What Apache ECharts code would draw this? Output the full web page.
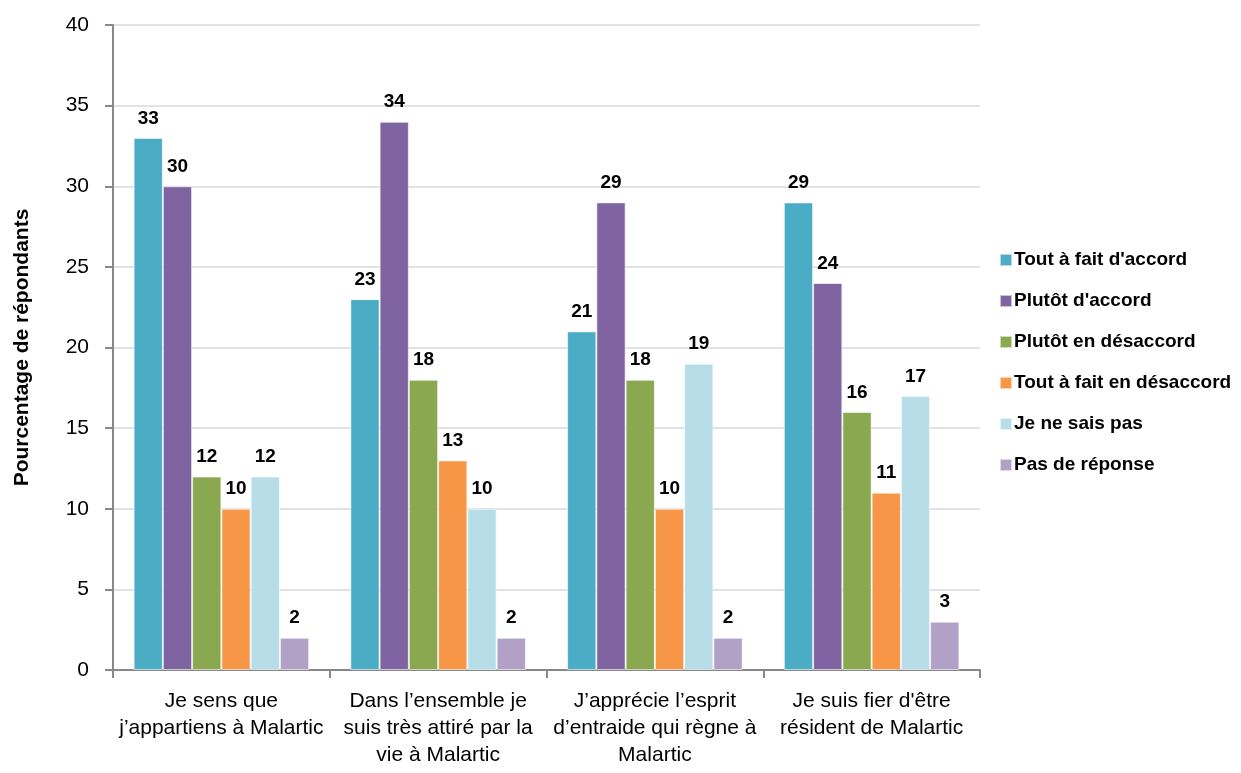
<!DOCTYPE html>
<html><head><meta charset="utf-8">
<script src="https://cdn.jsdelivr.net/npm/echarts@6/dist/echarts.min.js"></script>
<style>html,body{margin:0;padding:0;background:#fff}#c{width:1241px;height:773px}</style>
</head><body><div id="c"></div>
<script>
const categories = ["Je sens que\nj’appartiens à Malartic", "Dans l’ensemble je\nsuis très attiré par la\nvie à Malartic", "J’apprécie l’esprit\nd’entraide qui règne à\nMalartic", "Je suis fier d'être\nrésident de Malartic"];
const seriesNames = ["Tout à fait d'accord", "Plutôt d'accord", "Plutôt en désaccord", "Tout à fait en désaccord", "Je ne sais pas", "Pas de réponse"];
const toutAFaitAccord = [33, 23, 21, 29];
const plutotAccord = [30, 34, 29, 24];
const plutotDesaccord = [12, 18, 18, 16];
const toutAFaitDesaccord = [10, 13, 10, 11];
const neSaisPas = [12, 10, 19, 17];
const pasDeReponse = [2, 2, 2, 3];
const colors = ["#4BACC6", "#8064A2", "#8AA84F", "#F79646", "#B7DEE8", "#B2A1C7"];
const values = [toutAFaitAccord, plutotAccord, plutotDesaccord, toutAFaitDesaccord, neSaisPas, pasDeReponse];
const FONT = '"Liberation Sans Narrow", "Arial Narrow", "Liberation Sans", sans-serif';

const chart = echarts.init(document.getElementById('c'));
chart.setOption({
  animation: false,
  textStyle: { fontFamily: FONT },
  grid: { left: 113, right: 261, top: 25, bottom: 103, containLabel: false },
  legend: {
    orient: 'vertical', left: 994, top: 245, itemWidth: 12, itemHeight: 12, itemGap: 21,
    icon: 'rect',
    textStyle: { fontFamily: FONT, fontWeight: 'bold', fontSize: 19, lineHeight: 20, color: '#000', padding: [0,0,0,-3] },
    data: seriesNames
  },
  xAxis: {
    type: 'category', data: categories,
    axisLine: { lineStyle: { color: '#888', width: 2 } },
    axisTick: { show: true, length: 8, lineStyle: { color: '#888', width: 2 } },
    axisLabel: { fontFamily: FONT, fontSize: 21, color: '#000', lineHeight: 27, margin: 18, interval: 0 }
  },
  yAxis: {
    type: 'value', min: 0, max: 40, interval: 5,
    name: 'Pourcentage de répondants', nameLocation: 'middle', nameGap: 80,
    nameTextStyle: { fontFamily: FONT, fontWeight: 'bold', fontSize: 21, color: '#000' },
    axisLine: { show: true, lineStyle: { color: '#888', width: 2 } },
    axisTick: { show: true, length: 8, lineStyle: { color: '#888', width: 2 } },
    axisLabel: { fontFamily: FONT, fontSize: 21, color: '#000', margin: 24 },
    splitLine: { lineStyle: { color: '#d9d9d9', width: 1.5 } }
  },
  series: seriesNames.map((n, i) => ({
    name: n, type: 'bar', data: values[i],
    barGap: '0%', barCategoryGap: '19%',
    itemStyle: { color: colors[i], borderColor: 'rgba(255,255,255,0.6)', borderWidth: 1 },
    label: { show: true, position: 'top', distance: 10, fontFamily: FONT, fontWeight: 'bold', fontSize: 19, color: '#000' }
  }))
});
</script></body></html>
